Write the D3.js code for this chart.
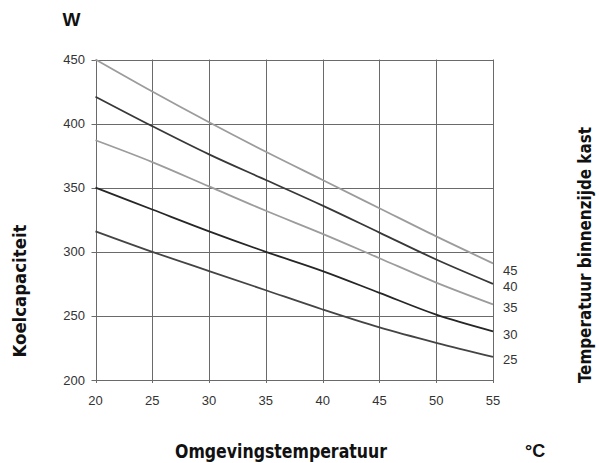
<!DOCTYPE html>
<html>
<head>
<meta charset="utf-8">
<script src="https://cdn.jsdelivr.net/npm/d3@7"></script>
<style>
  body { margin: 0; background: #fff; }
  svg { display: block; }
</style>
</head>
<body>
<div id="chart"></div>
<script>
const width = 599
const height = 463

// ambient temperature (°C)
const temps = [20, 25, 30, 35, 40, 45, 50, 55]
// cooling capacity (W) per inside cabinet temperature
const cap45 = [450, 425, 401, 378, 356, 334, 312, 291]
const cap40 = [421, 398, 376, 356, 336, 315, 294, 275]
const cap35 = [387, 370, 351, 332, 314, 295, 276, 259]
const cap30 = [350, 333, 316, 300, 285, 268, 251, 238]
const cap25 = [316, 300, 285, 270, 255, 241, 229, 218]
const seriesNames = ['45', '40', '35', '30', '25']
const xTicks = [20, 25, 30, 35, 40, 45, 50, 55]
const yTicks = [200, 250, 300, 350, 400, 450]

const series = [cap45, cap40, cap35, cap30, cap25].map((vals, i) => ({
    name: seriesNames[i],
    values: vals.map((v, j) => ({ t: temps[j], w: v }))
}));
const lineColors = ['#9c9c9c', '#383838', '#9c9c9c', '#262626', '#444']

const svg = d3.select('#chart').append('svg')
    .attr('width', width)
    .attr('height', height);

const x = d3.scaleLinear().domain([20, 55]).range([95.5, 493]);
const y = d3.scaleLinear().domain([200, 450]).range([380, 59.5]);

const labelFont = 'Liberation Sans, Arial, sans-serif';
const titleFont = 'Liberation Sans Narrow, DejaVu Sans Condensed, Arial Narrow, sans-serif';

// grid
const grid = svg.append('g').attr('stroke', '#6a6a6a').attr('stroke-width', 1);
grid.selectAll('.vx').data(xTicks).join('line')
    .attr('x1', d => Math.round(x(d)) + 0.5).attr('x2', d => Math.round(x(d)) + 0.5)
    .attr('y1', y(450)).attr('y2', y(200) + 3);
grid.selectAll('.hy').data(yTicks).join('line')
    .attr('x1', x(20) - 4).attr('x2', x(55))
    .attr('y1', d => Math.round(y(d)) + 0.5).attr('y2', d => Math.round(y(d)) + 0.5);

// tick labels
svg.append('g').selectAll('text').data(yTicks).join('text')
    .attr('x', 85).attr('y', d => y(d) + 4.5)
    .attr('text-anchor', 'end')
    .attr('font-family', labelFont).attr('font-size', 13).attr('fill', '#333')
    .text(d => d);
svg.append('g').selectAll('text').data(xTicks).join('text')
    .attr('x', d => x(d)).attr('y', 405)
    .attr('text-anchor', 'middle')
    .attr('font-family', labelFont).attr('font-size', 13).attr('fill', '#333')
    .text(d => d);

// curves
const line = d3.line()
    .x(d => x(d.t))
    .y(d => y(d.w))
    .curve(d3.curveCatmullRom);

svg.append('g').selectAll('path').data(series).join('path')
    .attr('d', d => line(d.values))
    .attr('fill', 'none')
    .attr('stroke', (d, i) => lineColors[i])
    .attr('stroke-width', 1.8);

// series labels at right end
svg.append('g').selectAll('text').data(series).join('text')
    .attr('x', 503)
    .attr('y', d => {
        let ly = y(d.values[d.values.length - 1].w) + 3;
        if (d.name === '45') ly += 4;
        return ly + 4.5;
    })
    .attr('font-family', labelFont).attr('font-size', 13).attr('fill', '#333')
    .text(d => d.name);

// titles
svg.append('text')
    .attr('x', 62.5).attr('y', 26)
    .attr('font-family', labelFont).attr('font-weight', 900).attr('font-size', 19)
    .attr('fill', '#111')
    .text('W');

svg.append('text')
    .attr('x', 281).attr('y', 458)
    .attr('text-anchor', 'middle')
    .attr('font-family', titleFont).attr('font-weight', 'bold').attr('font-size', 19)
    .attr('textLength', 212).attr('lengthAdjust', 'spacingAndGlyphs')
    .attr('fill', '#111')
    .text('Omgevingstemperatuur');

svg.append('text')
    .attr('x', 525).attr('y', 456.5)
    .attr('font-family', labelFont).attr('font-weight', 'bold').attr('font-size', 18)
    .attr('fill', '#111')
    .text('°C');

svg.append('text')
    .attr('transform', 'translate(26,291) rotate(-90)')
    .attr('text-anchor', 'middle')
    .attr('font-family', titleFont).attr('font-weight', 'bold').attr('font-size', 18)
    .attr('textLength', 133).attr('lengthAdjust', 'spacingAndGlyphs')
    .attr('fill', '#111')
    .text('Koelcapaciteit');

svg.append('text')
    .attr('transform', 'translate(590.5,255) rotate(-90)')
    .attr('text-anchor', 'middle')
    .attr('font-family', titleFont).attr('font-weight', 'bold').attr('font-size', 17)
    .attr('textLength', 256).attr('lengthAdjust', 'spacingAndGlyphs')
    .attr('fill', '#111')
    .text('Temperatuur binnenzijde kast');
</script>
</body>
</html>
